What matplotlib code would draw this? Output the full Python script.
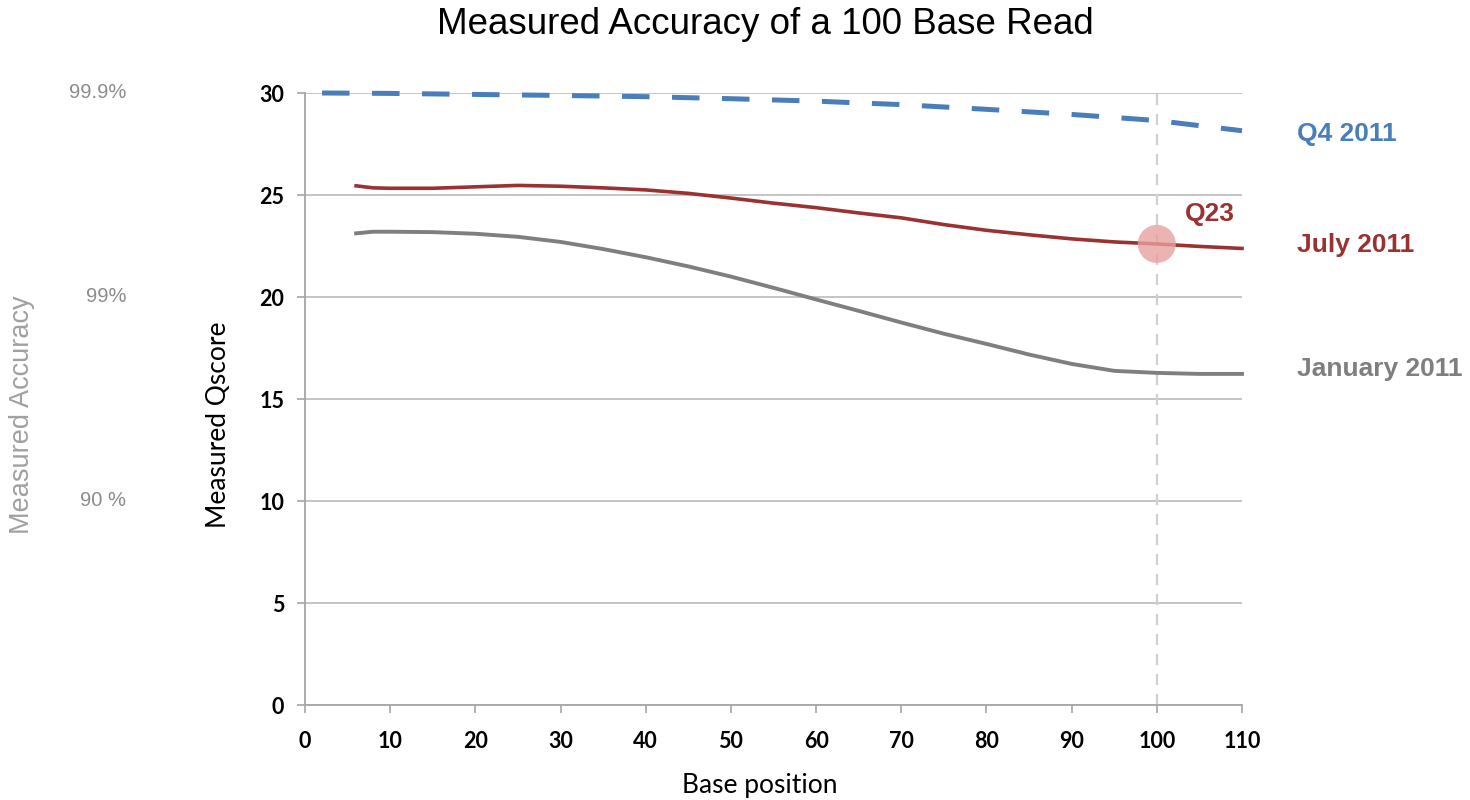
import matplotlib
matplotlib.use("Agg")
import matplotlib.pyplot as plt
from matplotlib.patches import Ellipse

# ---- data ----
q4_x = [2, 10, 20, 30, 40, 50, 60, 70, 80, 90, 100, 110]
q4_y = [30.0, 29.98, 29.93, 29.88, 29.82, 29.72, 29.6, 29.43, 29.2, 28.95, 28.65, 28.15]

jul_x = [6, 8, 10, 15, 20, 25, 30, 35, 40, 45, 50, 55, 60, 65, 70, 75, 80, 85, 90, 95, 100, 105, 110]
jul_y = [25.45, 25.35, 25.33, 25.33, 25.4, 25.47, 25.43, 25.35, 25.25, 25.08, 24.85, 24.6,
         24.38, 24.12, 23.88, 23.55, 23.27, 23.05, 22.85, 22.7, 22.6, 22.48, 22.38]

jan_x = [6, 8, 10, 15, 20, 25, 30, 35, 40, 45, 50, 55, 60, 65, 70, 75, 80, 85, 90, 95, 100, 105, 110]
jan_y = [23.12, 23.2, 23.2, 23.18, 23.1, 22.95, 22.7, 22.35, 21.95, 21.5, 21.0, 20.45,
         19.88, 19.32, 18.75, 18.2, 17.7, 17.18, 16.72, 16.38, 16.28, 16.23, 16.23]

series_labels = ["Q4 2011", "July 2011", "January 2011"]
label_y = [28.0, 22.55, 16.45]
acc_labels = ["99.9%", "99%", "90 %"]
acc_pos = [30, 20, 10]
x_ticks = list(range(0, 111, 10))
y_ticks = list(range(0, 31, 5))
highlight_x, highlight_y = 100, 22.6

BLUE = "#4A7EBB"
RED = "#9B3232"
GRAY = "#7F7F7F"
TICKFONT = ["Lato", "DejaVu Sans"]
ARIAL = ["Liberation Sans", "DejaVu Sans"]

fig = plt.figure(figsize=(14.7, 8), dpi=100)
ax = fig.add_axes([305/1470, 1-705/800, (1242-305)/1470, (705-93)/800])
ax.set_xlim(0, 110)
ax.set_ylim(0, 30)

ax.set_yticks(y_ticks)
ax.set_xticks(x_ticks)
ax.yaxis.grid(True, color="#C0C0C0", lw=1.3)
ax.set_axisbelow(True)
for s in ["top", "right"]:
    ax.spines[s].set_visible(False)
for s in ["left", "bottom"]:
    ax.spines[s].set_color("#A6A6A6")
    ax.spines[s].set_linewidth(1.3)
ax.tick_params(axis="both", colors="#A6A6A6", length=6, width=1.2, direction="out",
               labelcolor="black", labelsize=15.5)
ax.tick_params(axis="x", pad=13)
ax.tick_params(axis="y", pad=9)
for lbl in ax.get_xticklabels() + ax.get_yticklabels():
    lbl.set_fontfamily(TICKFONT)
    lbl.set_fontweight("bold")

# vertical guide at 100
ax.plot([highlight_x, highlight_x], [0, 30.3], color="#D0D0D0", lw=1.6,
        ls=(0, (5, 4)), clip_on=False, zorder=1)

ax.plot(q4_x, q4_y, color=BLUE, lw=3.6, ls=(0, (5.5, 4.5)), zorder=3, clip_on=False)
ax.plot(jul_x, jul_y, color=RED, lw=2.6, zorder=3, clip_on=False)
ax.plot(jan_x, jan_y, color=GRAY, lw=2.8, zorder=3, clip_on=False)

# highlight circle (in pixels: radius ~19px)
rx = 19 / ((1242-305)/110)
ry = 19 / ((705-93)/30)
ax.add_patch(Ellipse((highlight_x, highlight_y), 2*rx, 2*ry, color="#E8A0A0",
                     alpha=0.8, zorder=4, lw=0))
ax.text(highlight_x + 3.3, highlight_y + 1.45, "Q23", color=RED, fontsize=19,
        fontweight="bold", family=ARIAL, ha="left", va="center")

for lab, yv, col in zip(series_labels, label_y, [BLUE, RED, GRAY]):
    ax.text(116.5, yv, lab, color=col, fontsize=19, fontweight="bold",
            family=ARIAL, ha="left", va="center", clip_on=False)

fig.text(760/1470, 1-785/800, "Base position", fontsize=19, family=TICKFONT,
         ha="center", va="center")
fig.text(218/1470, 1-425/800, "Measured Qscore", rotation=90, fontsize=19,
         family=TICKFONT, ha="center", va="center")

# secondary accuracy labels
for lab, yv in zip(acc_labels, acc_pos):
    ax.text(-21, yv, lab, color="#8C8C8C", fontsize=14.5, family=ARIAL,
            ha="right", va="center", clip_on=False)
fig.text(22/1470, 1-415/800, "Measured Accuracy", rotation=90, fontsize=19.5,
         color="#A0A0A0", family=ARIAL, ha="center", va="center")

fig.text(765/1470, 1-24/800, "Measured Accuracy of a 100 Base Read", fontsize=26.5,
         family=["Liberation Sans Narrow", "Liberation Sans", "DejaVu Sans"],
         ha="center", va="center")

fig.savefig("out.png", dpi=100)
